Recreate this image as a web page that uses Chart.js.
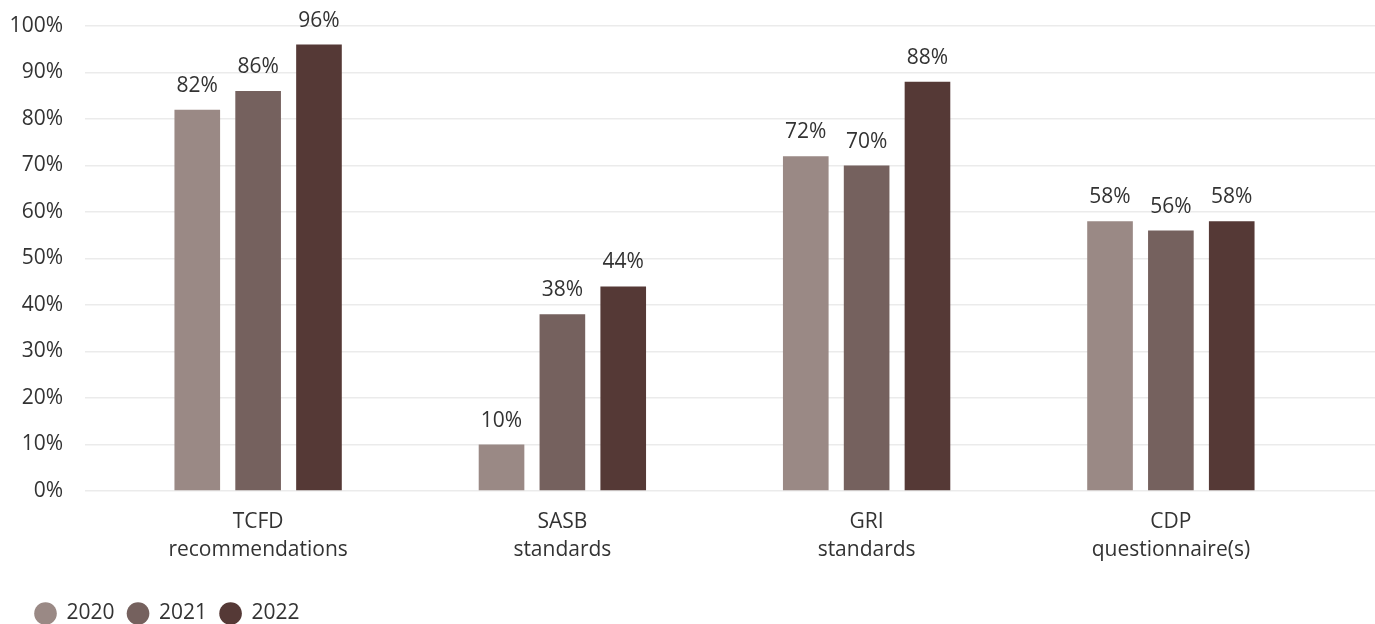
<!DOCTYPE html>
<html>
<head>
<meta charset="utf-8">
<script src="https://cdn.jsdelivr.net/npm/chart.js@4/dist/chart.umd.min.js"></script>
<style>
    html, body { margin: 0; padding: 0; background: #fff; overflow: hidden; }
    #wrap { width: 1375px; height: 624px; }
</style>
</head>
<body>
<div id="wrap"><canvas id="frameworkChart"></canvas></div>
<script>
// Share of companies reporting against each framework, by year
const categories = [
    ['TCFD', 'recommendations'],
    ['SASB', 'standards'],
    ['GRI', 'standards'],
    ['CDP', 'questionnaire(s)']
];
const years = ['2020', '2021', '2022'];
const values2020 = [82, 10, 72, 58];
const values2021 = [86, 38, 70, 56];
const values2022 = [96, 44, 88, 58];
const yTicks = [0, 10, 20, 30, 40, 50, 60, 70, 80, 90, 100];

const colors = ['#9a8985', '#75615e', '#553936'];
const textColor = '#333333';
const gridColor = '#ebebeb';
const fontFamily = '"Open Sans", "Noto Sans", sans-serif';

// value labels above each bar (datalabels plugin isn't available offline)
const barLabels = {
    id: 'barLabels',
    afterDatasetsDraw(chart) {
        const ctx = chart.ctx;
        ctx.save();
        ctx.font = '21px ' + fontFamily;
        ctx.fillStyle = textColor;
        ctx.textAlign = 'center';
        ctx.textBaseline = 'alphabetic';
        chart.data.datasets.forEach((ds, i) => {
            const meta = chart.getDatasetMeta(i);
            meta.data.forEach((bar, j) => {
                ctx.fillText(ds.data[j] + '%', bar.x, bar.y - 18);
            });
        });
        ctx.restore();
    }
};

// legend: fixed height, nudged in from the left edge
const legendPlacement = {
    id: 'legendPlacement',
    afterInit(chart) {
        const lg = chart.legend;
        if (!lg) return;
        const fit = lg.fit;
        lg.fit = function () {
            fit.call(this);
            this.height = 34;
        };
    },
    afterLayout(chart) {
        if (chart.legend) chart.legend.left = 22;
    }
};

const ctx = document.getElementById('frameworkChart').getContext('2d');

new Chart(ctx, {
    type: 'bar',
    data: {
        labels: categories,
        datasets: [
            { label: years[0], data: values2020, backgroundColor: colors[0] },
            { label: years[1], data: values2021, backgroundColor: colors[1] },
            { label: years[2], data: values2022, backgroundColor: colors[2] }
        ]
    },
    options: {
        responsive: true,
        maintainAspectRatio: false,
        animation: false,
        datasets: {
            bar: { categoryPercentage: 0.6, barPercentage: 0.75 }
        },
        layout: {
            padding: { top: 26, left: 0, right: 0, bottom: 0 }
        },
        scales: {
            x: {
                grid: { display: false, drawTicks: false },
                border: { display: false },
                ticks: {
                    color: textColor,
                    padding: 17,
                    font: { family: fontFamily, size: 21, lineHeight: 1.333 },
                    maxRotation: 0
                },
                afterFit(scale) { scale.height = 99; }
            },
            y: {
                min: 0,
                max: 100,
                afterBuildTicks(scale) { scale.ticks = yTicks.map(v => ({ value: v })); },
                grid: { color: gridColor, lineWidth: 1.5, drawTicks: true, tickLength: 21 },
                border: { display: false },
                ticks: {
                    color: textColor,
                    padding: 22,
                    font: { family: fontFamily, size: 21 },
                    callback: v => v + '%'
                },
                afterFit(scale) {
                    scale.width = 106;
                    scale.paddingTop = 0;
                    scale.paddingBottom = 0;
                }
            },
            yRight: {
                position: 'right',
                min: 0,
                max: 100,
                afterBuildTicks(scale) { scale.ticks = yTicks.map(v => ({ value: v })); },
                grid: { color: gridColor, lineWidth: 1.5, drawOnChartArea: false, drawTicks: true, tickLength: 52 },
                border: { display: false },
                ticks: { display: false },
                afterFit(scale) {
                    scale.width = 52;
                    scale.paddingTop = 0;
                    scale.paddingBottom = 0;
                }
            }
        },
        plugins: {
            legend: {
                position: 'bottom',
                align: 'start',
                labels: {
                    usePointStyle: true,
                    pointStyle: 'circle',
                    boxWidth: 21,
                    boxHeight: 16,
                    padding: 13,
                    color: textColor,
                    font: { family: fontFamily, size: 21 }
                }
            },
            tooltip: { enabled: false }
        }
    },
    plugins: [barLabels, legendPlacement]
});
</script>
</body>
</html>
